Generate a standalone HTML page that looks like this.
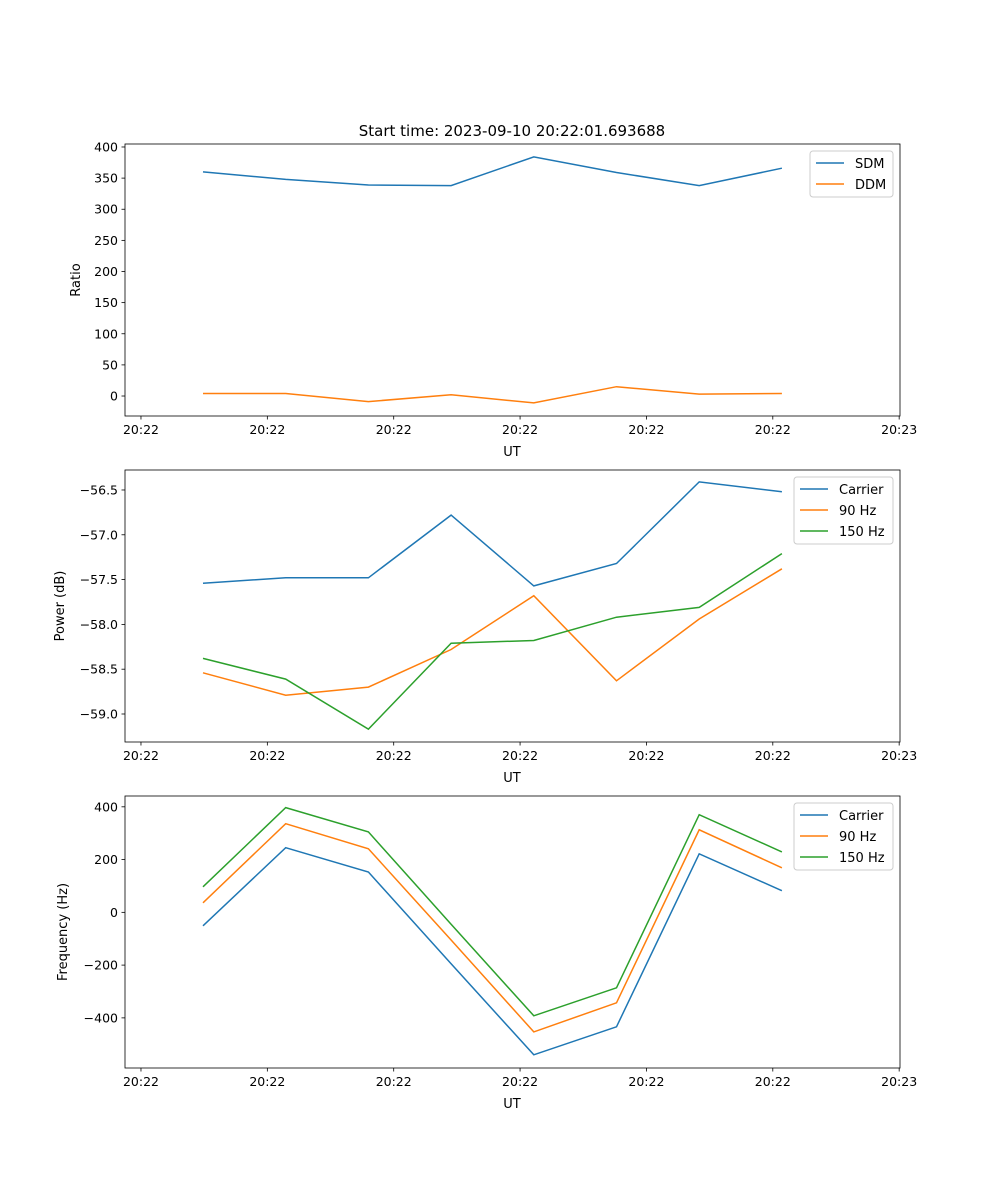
<!DOCTYPE html>
<html><head><meta charset="utf-8"><style>
body{margin:0;background:#fff;font-family:"DejaVu Sans","Liberation Sans",sans-serif}
svg text{font-family:"DejaVu Sans","Liberation Sans",sans-serif;fill:#000}
</style></head><body>
<svg id="c" width="1000" height="1200" xmlns="http://www.w3.org/2000/svg"></svg>
<script>
const timeIdx = [0,1,2,3,4,5,6,7];
const xTickLabels = ["20:22","20:22","20:22","20:22","20:22","20:22","20:23"];
const xTickIdx = [-0.75,0.778,2.306,3.834,5.362,6.89,8.418];
const sdm = [360,348,339,338,384,359,338,366];
const ddm = [4,4,-9,2,-11,15,3,4];
const pCarrier = [-57.54,-57.48,-57.48,-56.78,-57.57,-57.32,-56.41,-56.52];
const p90 = [-58.54,-58.79,-58.70,-58.28,-57.68,-58.63,-57.94,-57.38];
const p150 = [-58.38,-58.61,-59.17,-58.21,-58.18,-57.92,-57.81,-57.21];
const fCarrier = [-51,245,153,-195,-540,-434,222,82];
const f90 = [36,336,241,-105,-453,-343,313,169];
const f150 = [97,397,305,-45,-392,-286,370,229];
const ticks1 = [0,50,100,150,200,250,300,350,400];
const ticks2 = [-59.0,-58.5,-58.0,-57.5,-57.0,-56.5];
const ticks3 = [-400,-200,0,200,400];

const svg=document.getElementById('c');
const NS='http://www.w3.org/2000/svg';
function mk(tag,attrs,parent){const e=document.createElementNS(NS,tag);for(const k in attrs)e.setAttribute(k,attrs[k]);(parent||svg).appendChild(e);return e;}
const X0=125,X1=900;
const xs=i=>203+i*82.7;
const colors=['#1f77b4','#ff7f0e','#2ca02c'];

function panel(top,ymin,ymax,yticks,fmt,series,names,ylabel,legend,pname){
  const bot=top+272;
  const ys=v=>bot-(v-ymin)/(ymax-ymin)*272;
  const g=mk('g',{});
  
  
  series.forEach((s,k)=>{
    const d=s.map((v,i)=>(i?'L':'M')+xs(timeIdx[i]).toFixed(1)+','+ys(v).toFixed(1)).join('');
    const p=mk('path',{d:d,fill:'none',stroke:colors[k],'stroke-width':1.5},g);
    
    
  });
  const r=mk('rect',{x:X0,y:top,width:X1-X0,height:272,fill:'none',stroke:'#000','stroke-width':0.8},g);
  
  
  yticks.forEach(v=>{const y=ys(v);
    mk('line',{x1:X0-3.5,x2:X0,y1:y,y2:y,stroke:'#000','stroke-width':0.8},g);
    const t=mk('text',{x:X0-7,y:y+4.5,'text-anchor':'end','font-size':12.5},g);t.textContent=fmt(v);
    
    
  });
  xTickIdx.forEach((v,i)=>{const x=xs(v);
    mk('line',{x1:x,x2:x,y1:bot,y2:bot+3.5,stroke:'#000','stroke-width':0.8},g);
    const t=mk('text',{x:x,y:bot+18,'text-anchor':'middle','font-size':12.5},g);t.textContent=xTickLabels[i];
    
    
  });
  const xl=mk('text',{x:512,y:bot+40,'text-anchor':'middle','font-size':13},g);xl.textContent='UT';
  
  
  const yl=mk('text',{x:0,y:0,'text-anchor':'middle','font-size':13,transform:`translate(${legend.yx},${top+136}) rotate(-90)`},g);yl.textContent=ylabel;
  
  
  const lg=mk('g',{},g);
  
  
  mk('rect',{x:legend.x,y:top+7,width:893-legend.x,height:names.length*21+4,rx:3,fill:'#fff',stroke:'#ccc','stroke-width':1},lg);
  names.forEach((n,k)=>{const yy=top+19+k*21;
    mk('line',{x1:legend.x+6,x2:legend.x+34,y1:yy,y2:yy,stroke:colors[k],'stroke-width':1.5},lg);
    const t=mk('text',{x:legend.x+45,y:yy+5,'font-size':13},lg);t.textContent=n;
    
    
  });
}
panel(144,-32.1,404.8,ticks1,v=>String(v),[sdm,ddm],['SDM','DDM'],'Ratio',{x:810,yx:80},'ratio-panel');
panel(470,-59.3125,-56.277,ticks2,v=>'\u2212'+Math.abs(v).toFixed(1),[pCarrier,p90,p150],['Carrier','90 Hz','150 Hz'],'Power (dB)',{x:794,yx:64},'power-panel');
panel(796,-590,441,ticks3,v=>v<0?'\u2212'+Math.abs(v):String(v),[fCarrier,f90,f150],['Carrier','90 Hz','150 Hz'],'Frequency (Hz)',{x:794,yx:67},'frequency-panel');
const tt=mk('text',{x:512,y:136,'text-anchor':'middle','font-size':15});tt.textContent='Start time: 2023-09-10 20:22:01.693688';


</script>
</body></html>
